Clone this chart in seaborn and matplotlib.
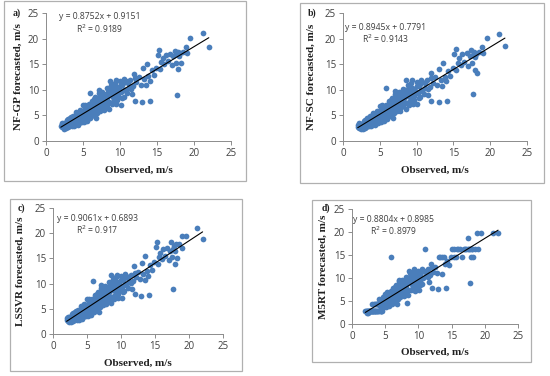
import numpy as np
import pandas as pd
import matplotlib
matplotlib.use("Agg")
import matplotlib.pyplot as plt
import seaborn as sns
from matplotlib.patches import Rectangle

sns.set_style("white")
plt.rcParams["font.family"] = ["Open Sans", "DejaVu Sans"]

# --- dati (stime) ---
observed = [
    2.0, 2.1, 2.2, 2.3, 2.4, 2.5, 2.6, 2.7, 2.8, 2.9, 3.0, 3.0, 3.1, 3.2, 3.3, 3.4, 3.5, 3.5,
    3.6, 3.7, 3.8, 3.9, 4.0, 4.0, 4.1, 4.2, 4.3, 4.4, 4.5, 4.5, 4.6, 4.7, 4.8, 4.9, 5.0, 5.0,
    5.1, 5.2, 5.3, 5.4, 5.5, 5.5, 5.6, 5.7, 5.8, 5.9, 5.9, 6.0, 6.1, 6.2, 6.3, 6.4, 6.5, 6.6,
    6.7, 6.8, 6.9, 7.0, 7.0, 7.1, 7.2, 7.3, 7.4, 7.5, 7.6, 7.7, 7.8, 7.9, 8.0, 8.1, 8.2, 8.3,
    8.4, 8.5, 8.6, 8.7, 8.8, 8.9, 9.0, 9.1, 9.2, 9.3, 9.4, 9.5, 9.6, 9.7, 9.8, 10.0, 10.1, 10.2,
    10.4, 10.5, 10.6, 10.8, 11.0, 11.2, 11.4, 11.6, 11.8, 11.9, 12.0, 12.2, 12.5, 12.8, 13.0, 13.1,
    13.3, 13.5, 13.6, 13.8, 14.0, 14.1, 14.3, 14.6, 14.9, 15.1, 15.3, 15.4, 15.6, 15.8, 16.0, 16.2,
    16.5, 16.8, 17.0, 17.2, 17.4, 17.5, 17.6, 17.7, 17.8, 17.9, 18.0, 18.1, 18.2, 18.5, 18.9, 19.0,
    19.5, 21.2, 22.0,
    2.2, 2.6, 3.1, 3.3, 3.6, 3.9, 4.2, 4.4, 4.7, 4.9, 5.2, 5.4, 5.7, 6.0, 6.3, 6.5, 6.8, 7.2,
    7.5, 7.8, 8.1, 8.4, 8.8, 9.1, 9.4, 9.9, 10.3, 10.7, 11.1, 11.5,
    3.0, 3.4, 3.8, 4.1, 4.3, 4.6, 4.8, 5.0, 5.1, 5.3, 5.6, 5.8, 6.0, 6.2, 6.4, 6.6, 6.9, 7.1,
    7.3, 7.6, 7.9, 8.2, 8.5, 8.8, 9.0, 9.3, 9.6, 10.0, 10.3, 10.6, 2.4, 2.8, 3.7, 4.5, 5.5, 6.1,
    7.0, 8.0, 9.5, 12.0,
]

nf_gp = [
    2.9, 3.2, 2.6, 3.0, 3.4, 2.7, 3.1, 2.4, 3.6, 3.0, 3.3, 4.2, 2.8, 3.7, 4.5, 3.2, 3.9, 2.9,
    4.4, 3.5, 4.1, 3.3, 4.8, 3.7, 4.3, 5.2, 3.6, 4.6, 4.0, 5.5, 4.9, 3.9, 5.3, 4.4, 5.8, 4.2,
    5.0, 6.1, 4.6, 5.5, 4.1, 6.4, 5.2, 4.8, 6.0, 9.4, 5.4, 6.6, 4.9, 5.9, 7.2, 6.3, 5.6, 7.6,
    6.8, 4.4, 7.3, 8.3, 6.2, 9.9, 7.0, 7.9, 6.5, 8.6, 7.4, 8.1, 6.0, 8.8, 7.7, 9.2, 6.9, 8.4,
    9.6, 7.5, 11.6, 8.9, 10.2, 7.1, 9.3, 10.6, 8.2, 9.8, 11.9, 7.2, 10.3, 8.8, 9.9, 10.8, 7.0, 9.5,
    11.2, 8.6, 10.0, 11.6, 9.3, 10.4, 11.9, 9.1, 10.7, 13.1, 7.8, 11.4, 12.5, 11.0, 7.5, 14.2,
    12.0, 10.9, 15.0, 12.6, 11.7, 7.8, 13.8, 12.8, 14.3, 16.8, 17.8, 14.0, 15.4, 16.2, 15.0, 16.8,
    15.6, 17.0, 14.8, 16.6, 17.6, 15.3, 16.9, 8.9, 17.3, 14.0, 16.5, 17.1, 15.2, 17.4, 18.3, 17.2,
    20.1, 21.1, 18.3,
    3.5, 2.8, 3.9, 3.0, 3.6, 4.6, 4.0, 3.5, 5.1, 5.7, 4.5, 6.6, 5.9, 5.1, 6.1, 8.1, 7.0, 8.6,
    7.1, 9.0, 8.0, 10.1, 9.5, 8.6, 10.5, 9.6, 10.9, 9.9, 11.3, 10.2,
    2.6, 4.6, 2.9, 5.6, 3.1, 6.0, 3.6, 6.9, 3.7, 7.0, 3.9, 7.1, 4.4, 7.8, 5.0, 8.5, 5.5, 9.3,
    5.9, 9.6, 6.6, 10.3, 6.3, 11.0, 7.6, 11.3, 8.0, 11.6, 8.4, 12.0, 2.3, 4.0, 4.9, 4.7, 5.0, 6.0,
    7.4, 8.7, 9.4, 12.3,
]

nf_sc = [
    2.7, 3.0, 2.4, 2.9, 3.3, 2.6, 3.0, 2.3, 3.5, 2.9, 3.2, 4.1, 2.7, 3.6, 4.4, 3.1, 3.8, 2.8,
    4.3, 3.4, 4.0, 3.2, 4.7, 3.6, 4.2, 5.1, 3.5, 4.5, 3.9, 5.4, 4.8, 3.8, 5.2, 4.3, 5.7, 4.1,
    4.9, 6.0, 4.5, 5.4, 4.0, 6.3, 5.1, 4.7, 5.9, 10.4, 5.3, 6.5, 4.8, 5.8, 7.1, 6.2, 5.5, 7.5,
    6.7, 4.5, 7.2, 8.2, 6.1, 9.8, 6.9, 7.8, 6.4, 8.5, 7.3, 8.0, 5.9, 8.7, 7.6, 9.1, 6.8, 8.3,
    9.5, 7.4, 11.8, 8.8, 10.1, 7.0, 9.2, 10.5, 8.1, 9.7, 11.8, 7.1, 10.2, 8.7, 9.8, 10.7, 7.2, 9.4,
    11.1, 8.5, 9.9, 11.5, 9.2, 10.3, 11.8, 9.0, 10.6, 13.2, 7.8, 11.3, 12.4, 10.9, 7.6, 14.1,
    11.9, 10.8, 15.2, 12.5, 11.6, 7.7, 13.7, 12.7, 14.2, 17.0, 18.0, 13.9, 15.3, 16.1, 14.9, 16.9,
    15.5, 17.1, 14.7, 16.5, 17.7, 15.2, 16.8, 9.1, 17.4, 13.8, 16.4, 17.0, 13.2, 17.3, 18.4, 17.1,
    20.2, 20.8, 18.6,
    3.4, 2.7, 3.8, 2.9, 3.5, 4.5, 3.9, 3.4, 5.0, 5.6, 4.4, 6.5, 5.8, 5.0, 6.0, 8.0, 6.9, 8.5,
    7.0, 8.9, 7.9, 10.0, 9.4, 8.5, 10.4, 9.5, 10.8, 9.8, 11.2, 10.1,
    2.5, 4.5, 2.8, 5.5, 3.0, 5.9, 3.5, 6.8, 3.6, 6.9, 3.8, 7.0, 4.3, 7.7, 4.9, 8.4, 5.4, 9.2,
    5.8, 9.5, 6.5, 10.2, 6.2, 10.9, 7.5, 11.2, 7.9, 11.5, 8.3, 11.9, 2.3, 3.9, 4.8, 4.6, 4.9, 5.9,
    7.3, 8.6, 9.3, 12.2,
]

lssvr = [
    2.8, 3.1, 2.5, 2.9, 3.3, 2.6, 3.0, 2.3, 3.5, 2.9, 3.2, 4.1, 2.7, 3.6, 4.4, 3.1, 3.8, 2.8,
    4.3, 3.4, 4.0, 3.2, 4.7, 3.6, 4.2, 5.1, 3.5, 4.5, 3.9, 5.4, 4.8, 3.8, 5.2, 4.3, 5.7, 4.1,
    4.9, 6.0, 4.5, 5.4, 4.0, 6.3, 5.1, 4.7, 5.9, 10.6, 5.3, 6.5, 4.8, 5.8, 7.1, 6.2, 5.5, 7.5,
    6.7, 4.4, 7.2, 8.2, 6.1, 9.8, 6.9, 7.8, 6.4, 8.5, 7.3, 8.0, 5.9, 8.7, 7.6, 9.1, 6.8, 8.3,
    9.5, 7.4, 11.7, 8.8, 10.1, 7.0, 9.2, 10.5, 8.1, 9.7, 11.8, 7.1, 10.2, 8.7, 9.8, 10.7, 7.1, 9.4,
    11.1, 8.5, 9.9, 11.5, 9.2, 10.3, 11.8, 9.0, 10.6, 13.4, 7.9, 11.3, 12.4, 10.9, 7.6, 14.1,
    11.9, 10.8, 15.5, 12.5, 11.6, 7.8, 13.7, 12.7, 14.2, 17.3, 18.2, 13.9, 15.3, 16.1, 14.9, 16.9,
    15.5, 17.1, 14.7, 16.5, 18.2, 15.2, 16.8, 9.0, 17.4, 13.8, 16.4, 17.8, 15.1, 17.8, 19.5, 17.1,
    19.5, 21.0, 18.8,
    3.4, 2.7, 3.8, 2.9, 3.5, 4.5, 3.9, 3.4, 5.0, 5.6, 4.4, 6.5, 5.8, 5.0, 6.0, 8.0, 6.9, 8.5,
    7.0, 8.9, 7.9, 10.0, 9.4, 8.5, 10.4, 9.5, 10.8, 9.8, 11.2, 10.1,
    2.5, 4.6, 2.8, 5.5, 3.0, 5.9, 3.5, 6.9, 3.6, 6.9, 3.8, 7.0, 4.3, 7.8, 4.9, 8.4, 5.4, 9.2,
    5.8, 9.6, 6.5, 10.3, 6.2, 10.9, 7.5, 11.3, 7.9, 11.6, 8.3, 11.9, 2.3, 3.9, 4.8, 4.6, 4.9, 5.9,
    7.3, 8.6, 9.3, 12.2,
]

m5rt = [
    2.9, 2.9, 2.4, 2.9, 2.9, 2.9, 2.9, 2.9, 2.9, 2.9, 2.9, 4.3, 2.9, 2.9, 4.3, 2.9, 2.9, 2.9,
    4.3, 2.9, 4.3, 2.9, 4.3, 2.9, 4.3, 5.3, 2.9, 4.3, 2.9, 5.5, 4.9, 3.9, 5.3, 4.3, 5.8, 4.3,
    5.0, 6.1, 4.6, 5.5, 4.3, 6.4, 5.2, 4.8, 6.0, 14.6, 5.4, 6.6, 4.9, 5.9, 7.2, 6.3, 5.6, 7.6,
    6.8, 4.3, 7.3, 8.3, 6.2, 9.6, 7.0, 7.9, 6.5, 8.6, 7.4, 8.1, 6.0, 8.8, 7.7, 9.2, 6.9, 4.6,
    9.6, 7.5, 11.6, 8.9, 10.2, 7.4, 9.3, 10.6, 8.2, 9.8, 11.9, 7.2, 10.3, 8.8, 9.9, 10.8, 7.3, 9.5,
    11.2, 8.6, 10.0, 11.6, 16.3, 10.4, 11.9, 9.1, 10.7, 13.1, 7.8, 11.4, 12.5, 11.0, 7.6, 14.6,
    14.6, 10.9, 14.6, 14.6, 13.1, 7.8, 13.8, 12.8, 14.6, 16.3, 16.3, 14.6, 14.6, 16.3, 16.3, 16.3,
    14.6, 16.3, 16.3, 16.3, 18.6, 16.3, 16.3, 9.0, 16.3, 14.6, 16.3, 16.3, 14.6, 16.3, 19.7, 16.3,
    19.7, 19.7, 19.7,
    2.9, 2.9, 2.9, 2.9, 2.9, 4.3, 4.0, 2.9, 5.1, 5.7, 4.5, 6.6, 5.9, 5.1, 6.1, 8.1, 7.0, 8.6,
    7.1, 9.0, 8.0, 10.1, 9.5, 8.6, 10.5, 9.6, 10.9, 9.9, 11.3, 10.2,
    2.9, 4.3, 2.9, 5.5, 2.9, 5.8, 3.6, 6.6, 3.7, 7.0, 3.9, 7.1, 4.4, 7.8, 5.0, 8.5, 5.5, 9.3,
    5.9, 9.6, 6.6, 10.3, 6.3, 11.0, 7.6, 11.3, 8.0, 11.6, 8.4, 12.0, 2.3, 2.9, 4.3, 4.3, 5.0, 6.0,
    7.4, 8.7, 9.4, 12.3,
]

panel_tags = ["a)", "b)", "c)", "d)"]
ylabels = ["NF-GP forecasted, m/s", "NF-SC forecasted, m/s",
           "LSSVR forecasted, m/s", "M5RT forecasted, m/s"]
equations = ["y = 0.8752x + 0.9151", "y = 0.8945x + 0.7791",
             "y = 0.9061x + 0.6893", "y = 0.8804x + 0.8985"]
r2_texts = ["R$^2$ = 0.9189", "R$^2$ = 0.9143", "R$^2$ = 0.917", "R$^2$ = 0.8979"]
forecasts = [nf_gp, nf_sc, lssvr, m5rt]

# --- layout in pixel (origine in alto a sinistra) ---
W, H = 550, 376
# assi: x0, x25, y0, y25
axes_px = [(46, 231, 140.7, 13), (343, 527, 140.7, 13),
           (53, 223, 334, 208), (352, 518, 324, 209)]
# cornice: left, right, top, bottom
frames_px = [(4, 246, 1, 181), (300, 544, 3, 183),
             (10, 242, 199, 371), (312, 531, 200, 362)]
tag_px = [(13, 13), (308, 13), (18, 208), (322, 208)]
eq_pos = [(0.29, 0.97, 0.875), (0.23, 0.885, 0.795), (0.26, 0.92, 0.83), (0.25, 0.905, 0.81)]
ylab_x = [-0.124, -0.147, -0.165, -0.145]
xlab_y = [-0.198, -0.20, -0.20, -0.21]

fig = plt.figure(figsize=(W / 100, H / 100), dpi=100)

serif = ["Liberation Serif", "DejaVu Serif"]
grey = "#404040"
axis_col = "#8c8c8c"
blue = "#4a7ebb"

for i in range(4):
    fl, fr, ft, fb = frames_px[i]
    fig.add_artist(Rectangle((fl / W, 1 - fb / H), (fr - fl) / W, (fb - ft) / H,
                             transform=fig.transFigure, fill=False,
                             edgecolor="#b0b0b0", linewidth=0.9))
    tx, ty = tag_px[i]
    fig.text(tx / W, 1 - ty / H, panel_tags[i], family=serif, fontweight="bold",
             fontsize=7, ha="left", va="center", color="#202020")

    x0, x25, y0, y25 = axes_px[i]
    ax = fig.add_axes([x0 / W, 1 - y0 / H, (x25 - x0) / W, (y0 - y25) / H])
    df = pd.DataFrame({"Observed": observed, "Forecast": forecasts[i]})
    sns.scatterplot(data=df, x="Observed", y="Forecast", ax=ax, color=blue,
                    s=17, linewidth=0, alpha=1, zorder=2)
    sns.regplot(data=df, x="Observed", y="Forecast", ax=ax, scatter=False,
                ci=None, truncate=True, color="black",
                line_kws={"linewidth": 0.8, "zorder": 3})
    ax.set_xlim(0, 25)
    ax.set_ylim(0, 25)
    ax.set_xticks([0, 5, 10, 15, 20, 25])
    ax.set_yticks([0, 5, 10, 15, 20, 25])
    ax.tick_params(axis="both", direction="out", length=3, width=0.7,
                   color=axis_col, labelsize=7, labelcolor=grey, pad=2, left=True, bottom=True)
    for s in ["top", "right"]:
        ax.spines[s].set_visible(False)
    for s in ["left", "bottom"]:
        ax.spines[s].set_color(axis_col)
        ax.spines[s].set_linewidth(0.7)
    ax.set_xlabel("Observed, m/s", family=serif, fontweight="bold", fontsize=8, color="#202020")
    ax.set_ylabel(ylabels[i], family=serif, fontweight="bold", fontsize=8, color="#202020")
    ax.xaxis.set_label_coords(0.5, xlab_y[i])
    ax.yaxis.set_label_coords(ylab_x[i], 0.5)
    ex, ey, ry = eq_pos[i]
    ax.text(ex, ey, equations[i], transform=ax.transAxes, ha="center", va="center",
            fontsize=6.2, color=grey)
    ax.text(ex, ry, r2_texts[i], transform=ax.transAxes, ha="center", va="center",
            fontsize=6.2, color=grey)

fig.savefig("out.png", dpi=100, facecolor="white")
